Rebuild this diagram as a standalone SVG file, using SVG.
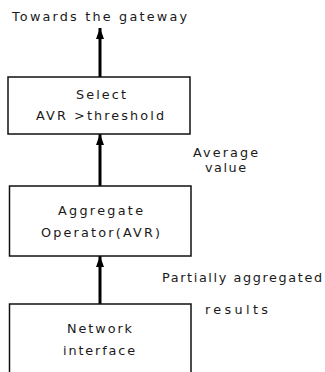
<svg xmlns="http://www.w3.org/2000/svg" width="325" height="372" viewBox="0 0 325 372">
  <defs>
    <marker id="head" viewBox="0 0 11 8" refX="11" refY="4" markerWidth="11" markerHeight="8" markerUnits="userSpaceOnUse" orient="auto">
      <path d="M0,0 L11,4 L0,8 z" fill="#000"/>
    </marker>
    <style>
      .box { fill: #fff; stroke: #111; stroke-width: 1.5; }
      .lbl { font-family: "DejaVu Sans", "Liberation Sans", sans-serif; font-size: 12.8px; fill: #1a1a1a; }
      .edge { stroke: #000; stroke-width: 3; fill: none; marker-end: url(#head); }
    </style>
  </defs>
  <rect width="325" height="372" fill="#fff"/>

  <g id="connectors">
    <line class="edge" x1="100" y1="77" x2="100" y2="28"/>
    <line class="edge" x1="100" y1="186" x2="100" y2="134"/>
    <line class="edge" x1="100" y1="304" x2="100" y2="256"/>
  </g>

  <g id="gateway-label">
    <text class="lbl" x="12" y="21" textLength="175" lengthAdjust="spacing">Towards the gateway</text>
  </g>

  <g id="select">
    <rect class="box" x="8" y="77" width="182" height="57"/>
    <text class="lbl" x="76" y="99" textLength="50" lengthAdjust="spacing">Select</text>
    <text class="lbl" x="36" y="120" textLength="128" lengthAdjust="spacing">AVR &gt;threshold</text>
  </g>

  <g id="average-label">
    <text class="lbl" x="193" y="157" textLength="65" lengthAdjust="spacing">Average</text>
    <text class="lbl" x="205" y="172" textLength="41" lengthAdjust="spacing">value</text>
  </g>

  <g id="aggregate">
    <rect class="box" x="9.5" y="186" width="181.5" height="70"/>
    <text class="lbl" x="58" y="215" textLength="85" lengthAdjust="spacing">Aggregate</text>
    <text class="lbl" x="41" y="237" textLength="119" lengthAdjust="spacing">Operator(AVR)</text>
  </g>

  <g id="partial-label">
    <text class="lbl" x="162" y="282" textLength="160" lengthAdjust="spacing">Partially aggregated</text>
    <text class="lbl" x="205" y="314" textLength="63" lengthAdjust="spacing">results</text>
  </g>

  <g id="network">
    <rect class="box" x="9.5" y="304" width="181.5" height="80"/>
    <text class="lbl" x="67" y="333" textLength="65" lengthAdjust="spacing">Network</text>
    <text class="lbl" x="63" y="355" textLength="72" lengthAdjust="spacing">interface</text>
  </g>
</svg>
